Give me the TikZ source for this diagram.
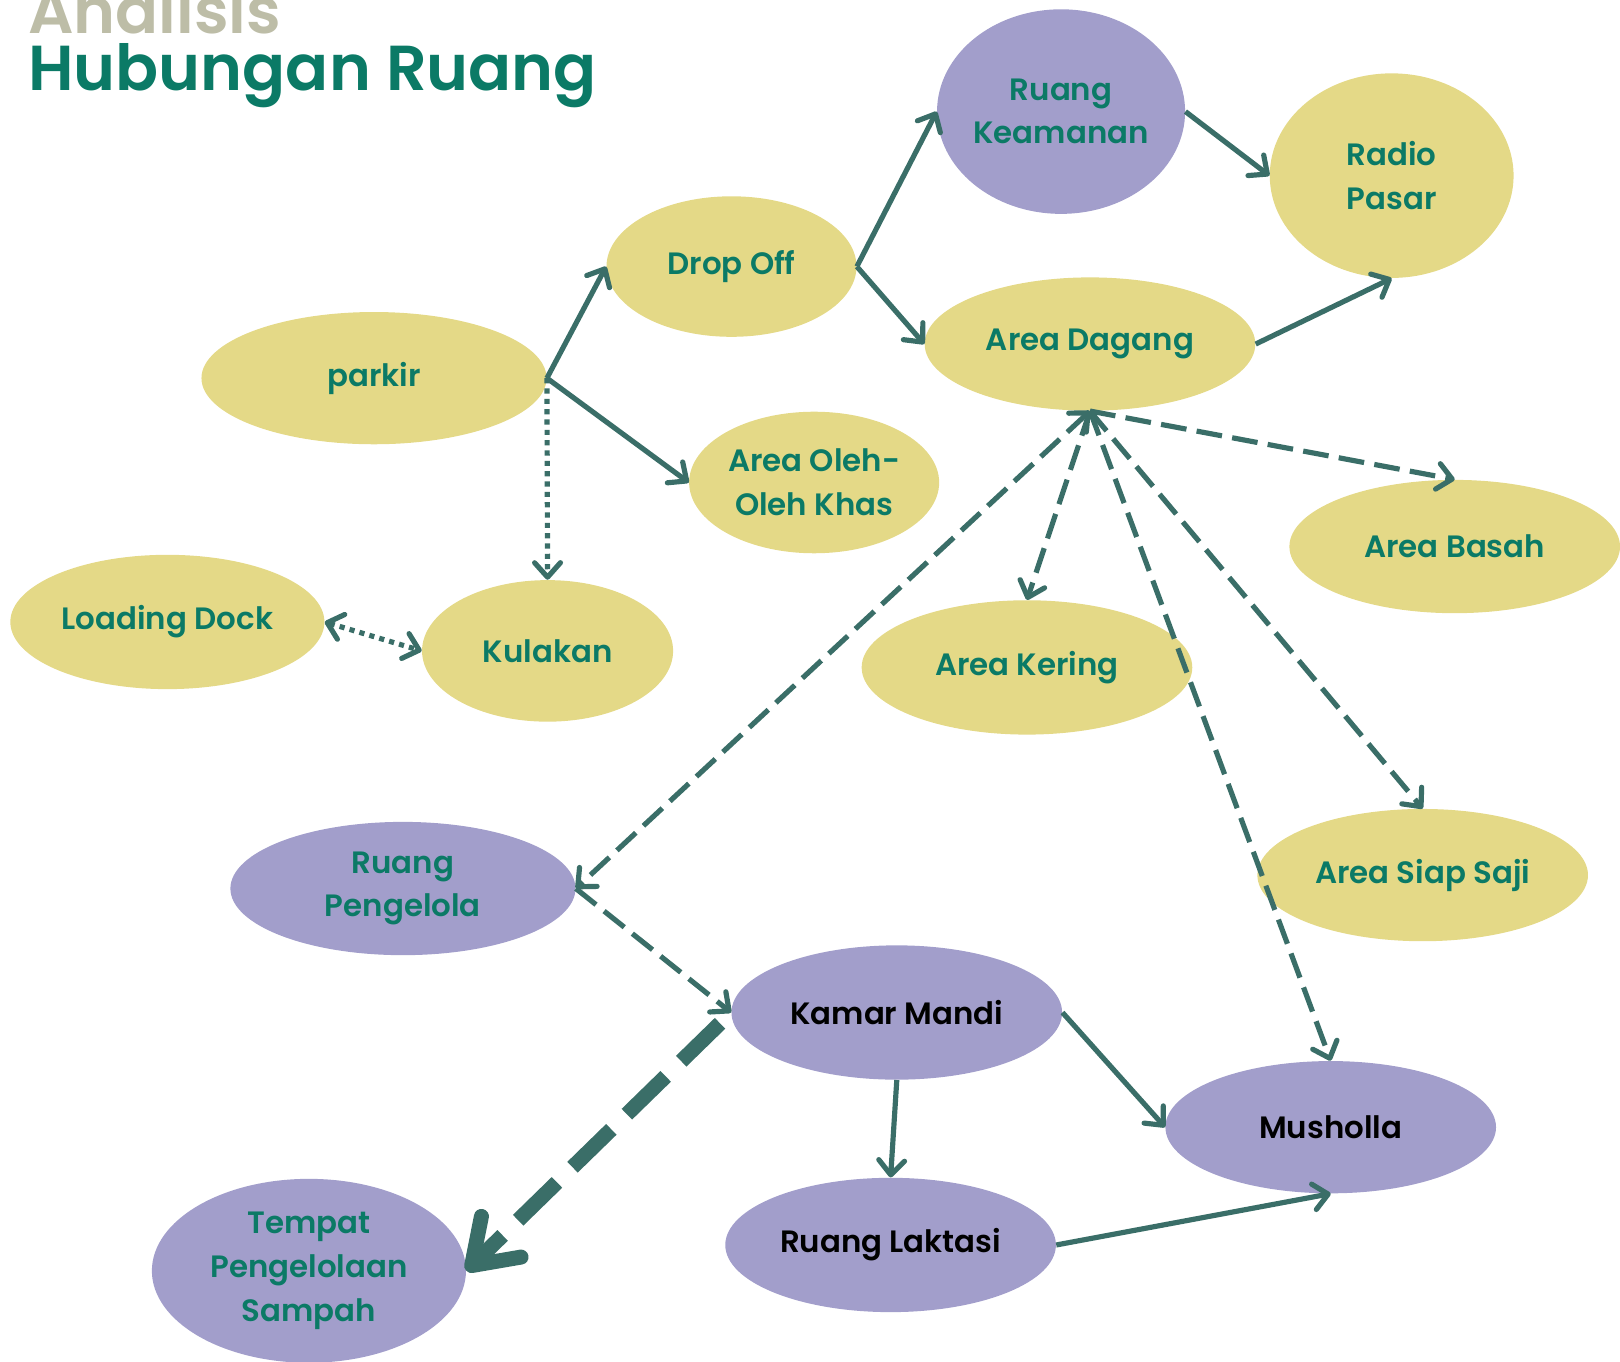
\documentclass[tikz,border=0pt]{standalone}
\usepackage{fontspec}
\usepackage{xcolor}
\setmainfont{Poppins}[BoldFont={Poppins SemiBold}]
\usetikzlibrary{shapes.geometric,arrows.meta}
\definecolor{kuning}{HTML}{E4D987}
\definecolor{ungu}{HTML}{A29ECB}
\definecolor{garis}{HTML}{3A6E68}
\definecolor{hijau}{HTML}{0B7A66}
\definecolor{abu}{HTML}{BDBDA7}

\begin{document}
\begin{tikzpicture}[x=0.02cm, y=-0.02cm,
		>={Straight Barb[round, length=2.8mm, width=5mm]},
		ruang/.style 2 args={ellipse, inner sep=0pt, minimum width=#1*0.02cm, minimum height=#2*0.02cm, align=center, text=hijau, font=\bfseries\fontsize{17}{24}\selectfont},
		zona/.style={fill=kuning},
		servis/.style={fill=ungu},
		gelap/.style={text=black},
		panah/.style={draw=garis, line width=0.1cm, ->},
		putus/.style={dash pattern=on 0.5cm off 0.2cm},
		titik/.style={dash pattern=on 0.1cm off 0.1cm}]
				\useasboundingbox (0, 0) rectangle (1568, 1318);
				\node[anchor=base west, inner sep=0pt, text=abu, font=\bfseries\fontsize{35}{40}\selectfont] (judulA) at (27, 32) {Analisis};
				\node[anchor=base west, inner sep=0pt, text=hijau, font=\bfseries\fontsize{35}{40}\selectfont] (judulB) at (27, 88) {Hubungan Ruang};
				\node[ruang={334}{128}, zona] (parkir) at (362, 366) {parkir};
				\node[ruang={242}{136}, zona] (dropoff) at (708, 258) {Drop Off};
				\node[ruang={234}{198}, servis] (keamanan) at (1027, 108) {Ruang\\Keamanan};
				\node[ruang={236}{198}, zona] (radio) at (1347, 170) {Radio\\Pasar};
				\node[ruang={320}{129}, zona] (dagang) at (1055, 333) {Area Dagang};
				\node[ruang={242}{137}, zona] (oleh) at (788, 467) {Area Oleh-\\Oleh Khas};
				\node[ruang={320}{129}, zona] (basah) at (1408, 529) {Area Basah};
				\node[ruang={304}{130}, zona] (loading) at (162, 602) {Loading Dock};
				\node[ruang={243}{137}, zona] (kulakan) at (530, 630) {Kulakan};
				\node[ruang={320}{130}, zona] (kering) at (994, 646) {Area Kering};
				\node[ruang={334}{129}, servis] (pengelola) at (390, 860) {Ruang\\Pengelola};
				\node[ruang={320}{128}, zona] (siapsaji) at (1377, 847) {Area Siap Saji};
				\node[ruang={320}{130}, servis, gelap] (kamarmandi) at (868, 980) {Kamar Mandi};
				\node[ruang={320}{128}, servis, gelap] (musholla) at (1288, 1091) {Musholla};
				\node[ruang={320}{130}, servis, gelap] (laktasi) at (862, 1205) {Ruang Laktasi};
				\node[ruang={304}{178}, servis] (sampah) at (299, 1230) {Tempat\\Pengelolaan\\Sampah};
				\draw[panah] (parkir.east) -- (dropoff.west);
				\draw[panah] (parkir.east) -- (oleh.west);
				\draw[panah, titik] (parkir.east) -- (kulakan.north);
				\draw[panah, titik, <->] (loading.east) -- (kulakan.west);
				\draw[panah] (dropoff.east) -- (keamanan.west);
				\draw[panah] (dropoff.east) -- (dagang.west);
				\draw[panah] (keamanan.east) -- (radio.west);
				\draw[panah] (dagang.east) -- (radio.south);
				\draw[panah, putus] (dagang.south) -- (basah.north);
				\draw[panah, putus] (dagang.south) -- (kering.north);
				\draw[panah, putus] (dagang.south) -- (siapsaji.north);
				\draw[panah, putus] (dagang.south) -- (musholla.north);
				\draw[panah, putus, <->] (dagang.south) -- (pengelola.east);
				\draw[panah, putus] (pengelola.east) -- (kamarmandi.west);
				\draw[draw=garis, line width=0.29cm, dash pattern=on 1.05cm off 0.42cm, -{Straight Barb[round, length=8mm, width=11mm]}, shorten <=0.3cm] (kamarmandi.west) -- (sampah.east);
				\draw[panah] (kamarmandi.east) -- (musholla.west);
				\draw[panah] (kamarmandi.south) -- (laktasi.north);
				\draw[panah] (laktasi.east) -- (musholla.south);
			\end{tikzpicture}
\end{document}
